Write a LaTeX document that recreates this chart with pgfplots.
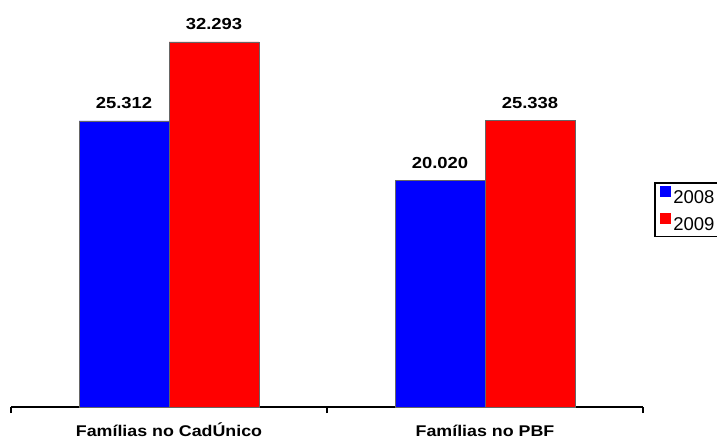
\documentclass[border=0pt]{standalone}
\usepackage{fontspec}
\setmainfont{Liberation Sans}
\newfontfamily\widefont[FakeStretch=1.15]{Liberation Sans}
\usepackage{pgfplots}
\pgfplotsset{compat=1.18}
\definecolor{barblue}{RGB}{0,0,255}
\definecolor{barred}{RGB}{255,0,0}
\begin{document}
\begin{tikzpicture}
\begin{axis}[
  at={(11bp,32bp)}, anchor=south west,
  scale only axis, width=632bp, height=407bp,
  xmin=-0.5, xmax=1.5, ymin=0, ymax=36,
  enlargelimits=false, clip=false,
  ybar=0pt, bar width=90bp,
  axis x line*=bottom, axis y line=none,
  axis line style={line width=1.5bp, black},
  xtick={0,1},
  xticklabels={Famílias no CadÚnico, Famílias no PBF},
  minor xtick={-0.5,0.5,1.5},
  major tick length=0pt, minor tick length=6bp,
  tick align=outside,
  minor tick style={line width=1.5bp, black},
  xticklabel style={anchor=base, yshift=-30bp, font=\widefont\bfseries\fontsize{15.5bp}{18bp}\selectfont},
  ytick=\empty,
  /pgf/number format/assume math mode=true,
  nodes near coords={\pgfmathprintnumber[fixed, precision=3, fixed zerofill]{\pgfplotspointmeta}},
  every node near coord/.append style={anchor=south, inner sep=0pt, yshift=12bp, font=\widefont\bfseries\fontsize{16bp}{18bp}\selectfont, black},
  legend style={at={(axis description cs:1.0174,0.5516)}, anchor=north west,
    draw=black, line width=1.5bp, inner xsep=5bp, inner ysep=3bp,
    font=\fontsize{18.5bp}{20bp}\selectfont,
    nodes={inner sep=1.5bp}, row sep=7bp, column sep=1bp},
  legend cell align=left,
  legend image code/.code={\fill[#1, draw=none] (0bp,0.5bp) rectangle (11bp,11.5bp);},
]
\addplot[fill=barblue, draw=black!60, line width=0.6bp] coordinates {(0,25.312) (1,20.020)};
\addplot[fill=barred, draw=black!60, line width=0.6bp] coordinates {(0,32.293) (1,25.338)};
\legend{2008,2009}
\end{axis}
\pgfresetboundingbox
\path[use as bounding box] (0,0) rectangle (717bp,439bp);
\end{tikzpicture}
\end{document}
